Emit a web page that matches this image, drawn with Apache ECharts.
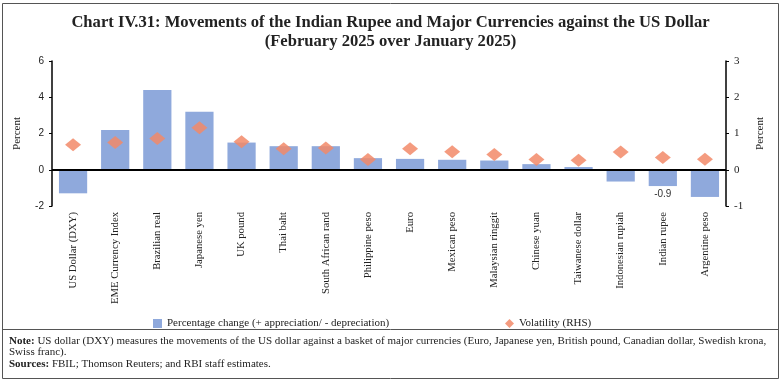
<!DOCTYPE html>
<html>
<head>
<meta charset="utf-8">
<script src="https://cdn.jsdelivr.net/npm/echarts@6/dist/echarts.min.js"></script>
<style>
html,body{margin:0;padding:0;background:#fff;}
#chart{width:781px;height:381px;}
</style>
</head>
<body>
<div id="chart"></div>
<script>
const categories = ['US Dollar (DXY)','EME Currency Index','Brazilian real','Japanese yen','UK pound','Thai baht','South African rand','Philippine peso','Euro','Mexican peso','Malaysian ringgit','Chinese yuan','Taiwanese dollar','Indonesian rupiah','Indian rupee','Argentine peso'];
const pctChange = [-1.3, 2.2, 4.4, 3.2, 1.5, 1.3, 1.3, 0.64, 0.6, 0.55, 0.51, 0.31, 0.15, -0.65, -0.9, -1.5];
const volatility = [0.69, 0.75, 0.86, 1.16, 0.77, 0.58, 0.60, 0.28, 0.58, 0.50, 0.42, 0.28, 0.26, 0.49, 0.34, 0.29];
const leftTicks = {min: -2, max: 6, interval: 2};
const rightTicks = {min: -1, max: 3, interval: 1};
const labelledCategory = 'Indian rupee';
const seriesNames = ['Percentage change (+ appreciation/ - depreciation)', 'Volatility (RHS)'];

const serif = '"Liberation Serif", "DejaVu Serif", serif';
const sans = '"Liberation Sans", "DejaVu Sans", sans-serif';

const chart = echarts.init(document.getElementById('chart'), null, {renderer: 'canvas'});

const barData = pctChange.map((v, i) => {
  if (categories[i] === labelledCategory) {
    return {value: v, label: {show: true, position: 'bottom', distance: 3, formatter: p => p.value.toFixed(1), color: '#333', fontFamily: sans, fontSize: 10}};
  }
  return v;
});

const option = {
  backgroundColor: '#fff',
  animation: false,
  title: {
    text: 'Chart IV.31: Movements of the Indian Rupee and Major Currencies against the US Dollar\n(February 2025 over January 2025)',
    left: 'center', top: 8,
    textStyle: {fontFamily: serif, fontWeight: 'bold', fontSize: 16.6, lineHeight: 19, color: '#222'}
  },
  grid: {left: 52, right: 55, top: 61, bottom: 175, containLabel: false},
  legend: [
    {data: [seriesNames[0]], left: 148, top: 313, itemWidth: 9, itemHeight: 9, icon: 'rect', itemGap: 4,
     textStyle: {fontFamily: serif, fontSize: 11, color: '#222'}},
    {data: [seriesNames[1]], left: 500, top: 313, itemWidth: 9, itemHeight: 9, icon: 'diamond',
     textStyle: {fontFamily: serif, fontSize: 11, color: '#222'}}
  ],
  xAxis: {
    type: 'category', data: categories,
    axisLine: {show: false}, axisTick: {show: false},
    axisLabel: {rotate: 90, margin: 6, interval: 0, fontFamily: serif, fontSize: 10.7, color: '#222'}
  },
  yAxis: [
    {type: 'value', min: leftTicks.min, max: leftTicks.max, interval: leftTicks.interval,
     name: 'Percent', nameLocation: 'middle', nameGap: 29, nameRotate: 90,
     nameTextStyle: {fontFamily: serif, fontSize: 11, color: '#222'},
     axisLine: {show: true, lineStyle: {color: '#000', width: 1.5}},
     axisTick: {show: true, length: 3, lineStyle: {color: '#000'}},
     axisLabel: {fontFamily: sans, fontSize: 10, color: '#222', margin: 8},
     splitLine: {show: false}},
    {type: 'value', min: rightTicks.min, max: rightTicks.max, interval: rightTicks.interval, position: 'right',
     name: 'Percent', nameLocation: 'middle', nameGap: 29, nameRotate: 90,
     nameTextStyle: {fontFamily: serif, fontSize: 11, color: '#222'},
     axisLine: {show: true, lineStyle: {color: '#000', width: 1.5}},
     axisTick: {show: true, length: 3, lineStyle: {color: '#000'}},
     axisLabel: {fontFamily: serif, fontSize: 11, color: '#222', margin: 8},
     splitLine: {show: false}}
  ],
  series: [
    {name: seriesNames[0], type: 'bar', yAxisIndex: 0, data: barData, barWidth: '67%',
     itemStyle: {color: '#8fa9dc'},
     markLine: {silent: true, symbol: 'none', label: {show: false},
       lineStyle: {color: '#000', width: 2, type: 'solid'}, data: [{yAxis: 0}]}},
    {name: seriesNames[1], type: 'scatter', yAxisIndex: 1, data: volatility,
     symbol: 'diamond', symbolSize: [16, 13],
     itemStyle: {color: '#f28a68', opacity: 0.85}, z: 5}
  ],
  graphic: [
    {type: 'rect', shape: {x: 2.5, y: 3.5, width: 776, height: 375}, style: {fill: 'none', stroke: '#555', lineWidth: 1}, silent: true},
    {type: 'line', shape: {x1: 2.5, y1: 329.5, x2: 778.5, y2: 329.5}, style: {stroke: '#555', lineWidth: 1}, silent: true},
    {type: 'text', left: 9, top: 335, style: {
      text: '{b|Note:} US dollar (DXY) measures the movements of the US dollar against a basket of major currencies (Euro, Japanese yen, British pound, Canadian dollar, Swedish krona,\nSwiss franc).\n{b|Sources:} FBIL; Thomson Reuters; and RBI staff estimates.',
      font: '11px ' + serif, fill: '#222', lineHeight: 11.7,
      rich: {b: {fontWeight: 'bold', fontFamily: serif, fontSize: 11, fill: '#222'}}
    }, silent: true}
  ]
};
chart.setOption(option);
</script>
</body>
</html>
